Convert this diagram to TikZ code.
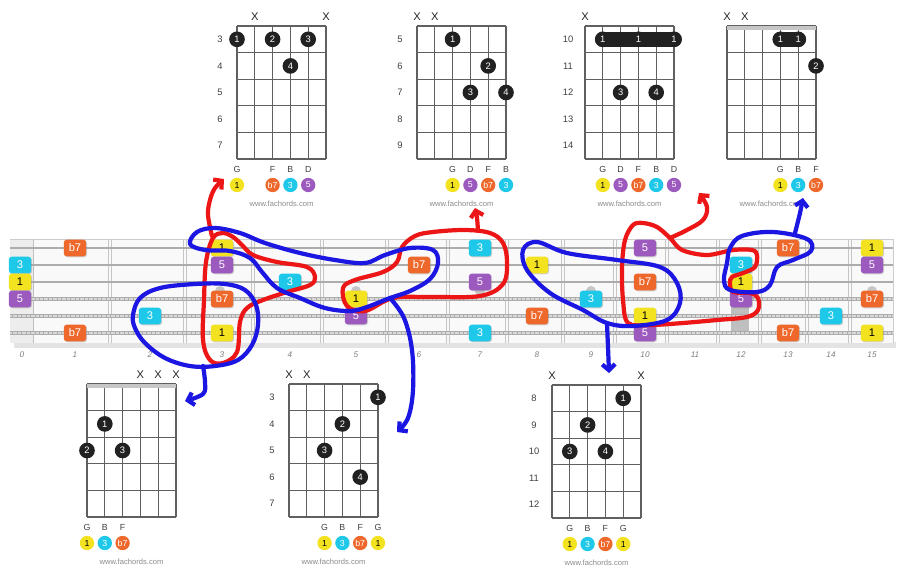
\documentclass[tikz,border=0pt]{standalone}
\usepackage{fontspec}
\setmainfont{Liberation Sans}
\usetikzlibrary{arrows.meta,shadows}

\definecolor{degone}{RGB}{243,226,32}
\definecolor{degthree}{RGB}{30,200,232}
\definecolor{degfive}{RGB}{156,90,190}
\definecolor{degsev}{RGB}{238,104,44}
\definecolor{penred}{RGB}{236,22,22}
\definecolor{penblue}{RGB}{28,22,226}

\tikzset{
  gridline/.style={gray!75!black, line width=1pt},
  fretno/.style={font=\fontsize{8}{8}\selectfont, text=black!75},
  xmark/.style={font=\fontsize{9.5}{9.5}\selectfont, text=black!85},
  fdot/.style={circle, fill=black!87, text=white, minimum size=0.47cm, inner sep=0pt,
    font=\fontsize{8}{8}\selectfont},
  barre/.style={line width=13.3pt, line cap=round, black!87},
  nname/.style={font=\fontsize{7.5}{7.5}\selectfont, text=black!75},
  deg/.style={circle, minimum size=0.43cm, inner sep=0pt, text=white, font=\fontsize{7.5}{7.5}\selectfont},
  r1/.style={fill=degone, text=black},
  r3/.style={fill=degthree},
  r5/.style={fill=degfive},
  r7/.style={fill=degsev},
  site/.style={font=\fontsize{6.5}{6.5}\selectfont, text=black!45},
  note/.style={rounded corners=2.5pt, minimum width=0.67cm, minimum height=0.5cm, inner sep=0pt,
    text=white, font=\fontsize{9.5}{9.5}\selectfont,
    drop shadow={opacity=0.35, shadow xshift=0.8pt, shadow yshift=-0.8pt}},
  boardno/.style={font=\itshape\fontsize{7}{7}\selectfont, text=black!50},
  pen/.style={line width=3.6pt, line cap=round, line join=round},
  pentip/.style={-{Straight Barb[length=5pt,width=11pt]}},
}

% one chord box: 6 strings, 5 frets
\newcommand{\chordgrid}{%
  \foreach \s in {0,...,5} \draw[gridline] (\s*17.8,0) -- (\s*17.8,133);
  \foreach \f in {0,...,5} \draw[gridline] (0,\f*26.6) -- (89,\f*26.6);
}
\newcommand{\fing}[4]{\node[fdot] (#1) at ({(#2-1)*17.8},{#3*26.6-13.3}) {#4};}
\newcommand{\xm}[2]{\node[xmark] (#1) at ({(#2-1)*17.8},-9) {X};}
\newcommand{\tone}[5]{\node[nname] (#1) at ({(#2-1)*17.8},143) {#3};
  \node[deg,#4] (#1c) at ({(#2-1)*17.8},159) {#5};}
\newcommand{\site}[1]{\node[site] (#1) at (44.5,178) {www.fachords.com};}

\begin{document}
\begin{tikzpicture}[x=0.03cm,y=-0.03cm]
\useasboundingbox (0,0) rectangle (900,578);
\fill[white] (0,0) rectangle (900,578);

% fretboard
\fill[gray!22] (14,342) rectangle (896,348);
\fill[gray!5] (10,239) rectangle (893,343);
\fill[gray!14] (10,239) rectangle (33,343);
\draw[gray!50, line width=0.8pt] (33,239) -- (33,343);
\foreach \x in {110,185,253,322,387,448,507,563,615,667,718,760,807,850} {
  \draw[gray!45, line width=0.7pt] (\x-1.5,239) -- (\x-1.5,343);
  \draw[gray!45, line width=0.7pt] (\x+1.5,239) -- (\x+1.5,343);
}
\draw[gray!40, line width=0.7pt] (10,239) -- (893,239) -- (893,343);
\foreach \x in {220,356,480,591,872} \fill[gray!45] (\x,291) circle (0.15cm);
\fill[gray!50] (731,300) rectangle (749,332);
\foreach \y/\w in {248/1.2,265/1.5,282/1.8} \draw[gray!65, line width=\w pt] (10,\y) -- (893,\y);
\foreach \y in {299,316,333} {
  \draw[gray!65, line width=3.4pt] (10,\y) -- (893,\y);
  \draw[white!70!gray, line width=2.4pt, dash pattern=on 0.5pt off 0.6pt] (10,\y) -- (893,\y);
}
\foreach \n/\x in {0/22,1/75,2/150,3/222,4/290,5/356,6/419,7/480,8/537,9/591,10/645,11/695,12/741,13/788,14/831,15/872}
  \node[boardno] (bn\n) at (\x,355) {\n};

% notes of G7
\foreach \x/\y/\c/\t [count=\i] in {
  75/248/r7/b7, 222/248/r1/1, 480/248/r3/3, 645/248/r5/5, 788/248/r7/b7, 872/248/r1/1,
  20/265/r3/3, 222/265/r5/5, 419/265/r7/b7, 537/265/r1/1, 741/265/r3/3, 872/265/r5/5,
  20/282/r1/1, 290/282/r3/3, 480/282/r5/5, 645/282/r7/b7, 741/282/r1/1,
  20/299/r5/5, 222/299/r7/b7, 356/299/r1/1, 591/299/r3/3, 741/299/r5/5, 872/299/r7/b7,
  150/316/r3/3, 356/316/r5/5, 537/316/r7/b7, 645/316/r1/1, 831/316/r3/3,
  75/333/r7/b7, 222/333/r1/1, 480/333/r3/3, 645/333/r5/5, 788/333/r7/b7, 872/333/r1/1}
  \node[note,\c] (n\i) at (\x,\y) {\t};

% chord boxes
\begin{scope}[shift={(237,26)}]
  \chordgrid
  \foreach \f [count=\k] in {3,...,7} \node[fretno] (ga\k) at (-17,{\k*26.6-13.3}) {\f};
  \xm{gax2}{2} \xm{gax6}{6}
  \fing{gaf1}{1}{1}{1} \fing{gaf2}{3}{1}{2} \fing{gaf3}{5}{1}{3} \fing{gaf4}{4}{2}{4}
  \tone{gat1}{1}{G}{r1}{1} \tone{gat3}{3}{F}{r7}{b7} \tone{gat4}{4}{B}{r3}{3} \tone{gat5}{5}{D}{r5}{5}
  \site{gaw}
\end{scope}

\begin{scope}[shift={(417,26)}]
  \chordgrid
  \foreach \f [count=\k] in {5,...,9} \node[fretno] (gb\k) at (-17,{\k*26.6-13.3}) {\f};
  \xm{gbx1}{1} \xm{gbx2}{2}
  \fing{gbf1}{3}{1}{1} \fing{gbf2}{5}{2}{2} \fing{gbf3}{4}{3}{3} \fing{gbf4}{6}{3}{4}
  \tone{gbt3}{3}{G}{r1}{1} \tone{gbt4}{4}{D}{r5}{5} \tone{gbt5}{5}{F}{r7}{b7} \tone{gbt6}{6}{B}{r3}{3}
  \site{gbw}
\end{scope}

\begin{scope}[shift={(585,26)}]
  \chordgrid
  \foreach \f [count=\k] in {10,...,14} \node[fretno] (gc\k) at (-17,{\k*26.6-13.3}) {\f};
  \xm{gcx1}{1}
  \draw[barre] (17.8,13.3) -- (89,13.3);
  \fing{gcf1}{2}{1}{1} \fing{gcf2}{4}{1}{1} \fing{gcf3}{6}{1}{1}
  \fing{gcf4}{3}{3}{3} \fing{gcf5}{5}{3}{4}
  \tone{gct2}{2}{G}{r1}{1} \tone{gct3}{3}{D}{r5}{5} \tone{gct4}{4}{F}{r7}{b7}
  \tone{gct5}{5}{B}{r3}{3} \tone{gct6}{6}{D}{r5}{5}
  \site{gcw}
\end{scope}

\begin{scope}[shift={(727,26)}]
  \chordgrid
  \fill[gray!45] (0,0) rectangle (89,4);
  \xm{gdx1}{1} \xm{gdx2}{2}
  \draw[barre] (53.4,13.3) -- (71.2,13.3);
  \fing{gdf1}{4}{1}{1} \fing{gdf2}{5}{1}{1} \fing{gdf3}{6}{2}{2}
  \tone{gdt4}{4}{G}{r1}{1} \tone{gdt5}{5}{B}{r3}{3} \tone{gdt6}{6}{F}{r7}{b7}
  \site{gdw}
\end{scope}

\begin{scope}[shift={(87,384)}]
  \chordgrid
  \fill[gray!45] (0,0) rectangle (89,4);
  \xm{gex4}{4} \xm{gex5}{5} \xm{gex6}{6}
  \fing{gef1}{2}{2}{1} \fing{gef2}{1}{3}{2} \fing{gef3}{3}{3}{3}
  \tone{get1}{1}{G}{r1}{1} \tone{get2}{2}{B}{r3}{3} \tone{get3}{3}{F}{r7}{b7}
  \site{gew}
\end{scope}

\begin{scope}[shift={(289,384)}]
  \chordgrid
  \foreach \f [count=\k] in {3,...,7} \node[fretno] (gf\k) at (-17,{\k*26.6-13.3}) {\f};
  \xm{gfx1}{1} \xm{gfx2}{2}
  \fing{gff1}{6}{1}{1} \fing{gff2}{4}{2}{2} \fing{gff3}{3}{3}{3} \fing{gff4}{5}{4}{4}
  \tone{gft3}{3}{G}{r1}{1} \tone{gft4}{4}{B}{r3}{3} \tone{gft5}{5}{F}{r7}{b7} \tone{gft6}{6}{G}{r1}{1}
  \site{gfw}
\end{scope}

\begin{scope}[shift={(552,385)}]
  \chordgrid
  \foreach \f [count=\k] in {8,...,12} \node[fretno] (gg\k) at (-18,{\k*26.6-13.3}) {\f};
  \xm{ggx1}{1} \xm{ggx6}{6}
  \fing{ggf1}{5}{1}{1} \fing{ggf2}{3}{2}{2} \fing{ggf3}{2}{3}{3} \fing{ggf4}{4}{3}{4}
  \tone{ggt2}{2}{G}{r1}{1} \tone{ggt3}{3}{B}{r3}{3} \tone{ggt4}{4}{F}{r7}{b7} \tone{ggt5}{5}{G}{r1}{1}
  \site{ggw}
\end{scope}

% red marker shapes
\draw[pen, penred] plot[smooth cycle, tension=0.6] coordinates {(213,238) (206,262) (204,300) (203,340)
  (210,360) (223,363) (237,352) (240,322) (247,308) (263,300) (287,292) (310,285) (315,277) (307,267)
  (277,262) (253,255) (242,245) (233,237) (223,233)};
\draw[pen, penred, pentip] plot[smooth, tension=0.6] coordinates {(212,236) (208,215) (210,200) (215,188) (224,179)};
\draw[pen, penred] plot[smooth cycle, tension=0.6] coordinates {(343,288) (347,306) (365,311) (393,298)
  (430,297) (480,296) (503,284) (507,262) (503,243) (490,233) (465,230) (433,232) (415,236) (402,247)
  (397,262) (383,272) (355,280)};
\draw[pen, penred, pentip] plot[smooth, tension=0.6] coordinates {(478,231) (477,218) (475,208)};
\draw[pen, penred] plot[smooth cycle, tension=0.55] coordinates {(633,225) (625,240) (622,267) (623,300)
  (628,323) (650,325) (683,323) (717,320) (747,317) (758,310) (758,298) (750,293) (733,292) (730,283)
  (732,277) (743,273) (755,267) (757,255) (752,250) (733,250) (707,255) (682,250) (670,238) (657,227)
  (643,223)};
\draw[pen, penred, pentip] plot[smooth, tension=0.6] coordinates {(670,238) (687,230) (703,220) (707,207) (699,193)};

% blue marker shapes
\draw[pen, penblue] plot[smooth cycle, tension=0.6] coordinates {(190,244) (197,232) (215,228) (240,233)
  (265,243) (300,253) (335,260) (365,263) (385,255) (410,248) (433,250) (438,263) (430,279) (410,291)
  (390,298) (367,307) (350,311) (325,308) (300,298) (277,288) (262,272) (250,258) (230,251) (205,250)};
\draw[pen, penblue, pentip] plot[smooth, tension=0.6] coordinates {(390,298) (404,318) (412,350) (413,390) (408,418) (397,432)};
\draw[pen, penblue] plot[smooth cycle, tension=0.6] coordinates {(133,315) (140,298) (160,288) (195,284)
  (225,284) (245,290) (256,305) (258,325) (252,345) (238,360) (215,366) (190,366) (165,358) (145,343)
  (135,328)};
\draw[pen, penblue, pentip] plot[smooth, tension=0.6] coordinates {(203,366) (205,382) (203,394) (185,401)};
\draw[pen, penblue] plot[smooth cycle, tension=0.6] coordinates {(523,250) (537,242) (567,253) (617,260)
  (660,267) (677,283) (680,303) (667,320) (633,326) (607,323) (583,310) (550,293) (527,270)};
\draw[pen, penblue, pentip] plot[smooth, tension=0.6] coordinates {(607,324) (608,347) (609,373)};
\draw[pen, penblue] plot[smooth cycle, tension=0.6] coordinates {(727,263) (730,248) (742,236) (773,232)
  (807,239) (811,251) (793,260) (777,267) (770,285) (757,292) (730,290) (724,280)};
\draw[pen, penblue, pentip] plot[smooth, tension=0.6] coordinates {(795,233) (800,213) (803,198)};
\end{tikzpicture}
\end{document}
